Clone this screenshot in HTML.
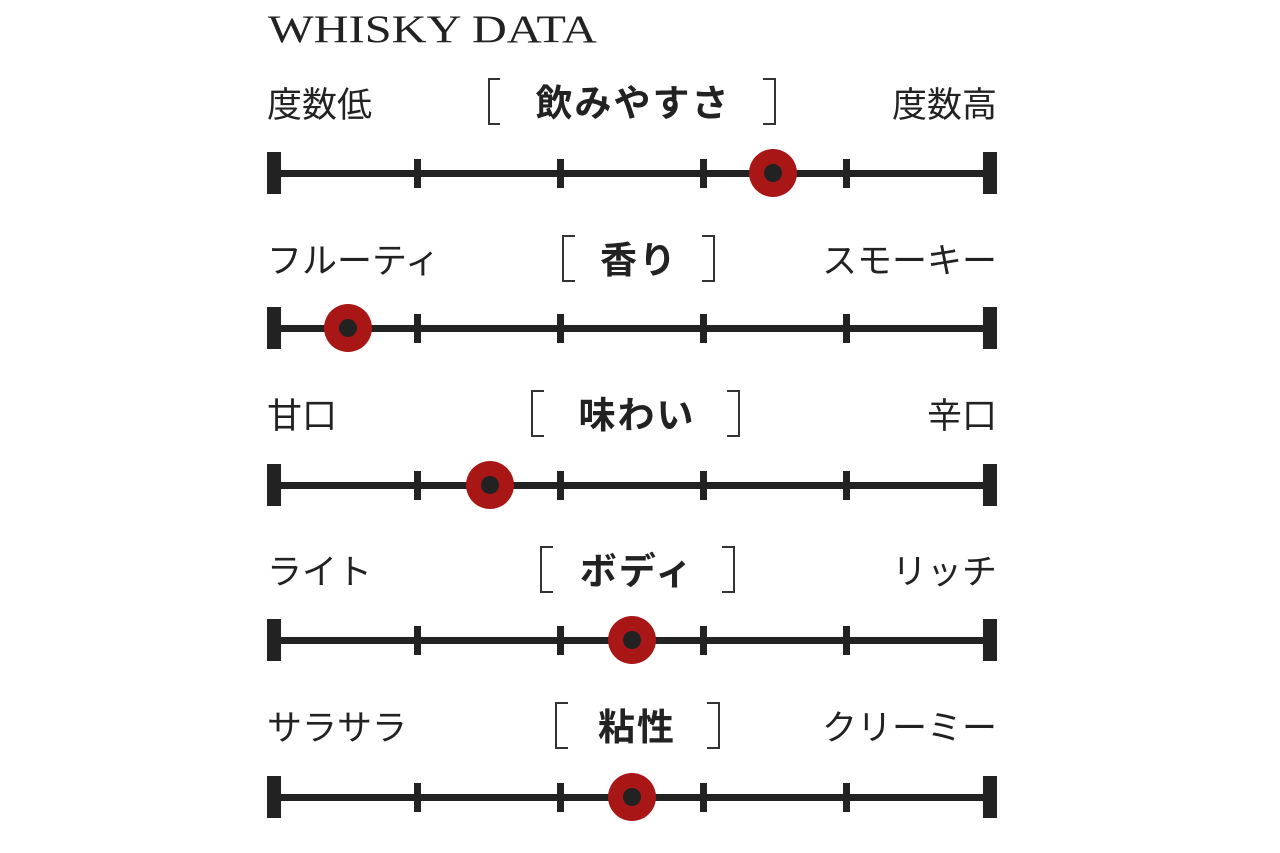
<!DOCTYPE html>
<html><head><meta charset="utf-8"><style>
html,body{margin:0;padding:0;background:#fff;}
svg{display:block;}
.s{font-family:"Liberation Sans","Noto Sans CJK JP",sans-serif;font-size:35px;fill:#222;}
.b{font-family:"Liberation Sans","Noto Sans CJK JP",sans-serif;font-size:37px;font-weight:bold;fill:#222;letter-spacing:2px;}
</style></head><body>
<svg width="1280" height="853" viewBox="0 0 1280 853" xmlns="http://www.w3.org/2000/svg">
<text x="268" y="42" font-family="Liberation Serif,serif" font-size="39" fill="#222" textLength="329" lengthAdjust="spacingAndGlyphs">WHISKY DATA</text>
<g fill="#222">
<text class="s" x="267" y="117">度数低</text>
<text class="s" x="997" y="117" text-anchor="end">度数高</text>
<path d="M500 79 H489 V124 H500 M763 79 H775 V124 H763" stroke="#333" stroke-width="2" fill="none"/>
<text class="b" x="633" y="116" text-anchor="middle">飲みやすさ</text>
<rect x="268" y="170" width="728" height="7"/><rect x="267" y="152" width="14" height="42"/><rect x="983" y="152" width="14" height="42"/>
<rect x="414" y="159" width="7" height="29"/><rect x="557" y="159" width="7" height="29"/><rect x="700" y="159" width="7" height="29"/><rect x="843" y="159" width="7" height="29"/>
<circle cx="773" cy="173" r="24" fill="#a81616"/><circle cx="773" cy="173" r="9" fill="#222"/>
<text class="s" x="267" y="273">フルーティ</text>
<text class="s" x="997" y="273" text-anchor="end">スモーキー</text>
<path d="M575 236 H563 V281 H575 M702 236 H714 V281 H702" stroke="#333" stroke-width="2" fill="none"/>
<text class="b" x="639" y="273" text-anchor="middle">香り</text>
<rect x="268" y="325" width="728" height="7"/><rect x="267" y="307" width="14" height="42"/><rect x="983" y="307" width="14" height="42"/>
<rect x="414" y="314" width="7" height="29"/><rect x="557" y="314" width="7" height="29"/><rect x="700" y="314" width="7" height="29"/><rect x="843" y="314" width="7" height="29"/>
<circle cx="348" cy="328" r="24" fill="#a81616"/><circle cx="348" cy="328" r="9" fill="#222"/>
<text class="s" x="267" y="428">甘口</text>
<text class="s" x="997" y="428" text-anchor="end">辛口</text>
<path d="M544 391 H532 V436 H544 M727 391 H739 V436 H727" stroke="#333" stroke-width="2" fill="none"/>
<text class="b" x="637" y="428" text-anchor="middle">味わい</text>
<rect x="268" y="482" width="728" height="7"/><rect x="267" y="464" width="14" height="42"/><rect x="983" y="464" width="14" height="42"/>
<rect x="414" y="471" width="7" height="29"/><rect x="557" y="471" width="7" height="29"/><rect x="700" y="471" width="7" height="29"/><rect x="843" y="471" width="7" height="29"/>
<circle cx="490" cy="485" r="24" fill="#a81616"/><circle cx="490" cy="485" r="9" fill="#222"/>
<text class="s" x="267" y="584">ライト</text>
<text class="s" x="997" y="584" text-anchor="end">リッチ</text>
<path d="M553 547 H541 V592 H553 M722 547 H734 V592 H722" stroke="#333" stroke-width="2" fill="none"/>
<text class="b" x="637" y="584" text-anchor="middle">ボディ</text>
<rect x="268" y="637" width="728" height="7"/><rect x="267" y="619" width="14" height="42"/><rect x="983" y="619" width="14" height="42"/>
<rect x="414" y="626" width="7" height="29"/><rect x="557" y="626" width="7" height="29"/><rect x="700" y="626" width="7" height="29"/><rect x="843" y="626" width="7" height="29"/>
<circle cx="632" cy="640" r="24" fill="#a81616"/><circle cx="632" cy="640" r="9" fill="#222"/>
<text class="s" x="267" y="740">サラサラ</text>
<text class="s" x="997" y="740" text-anchor="end">クリーミー</text>
<path d="M568 703 H556 V748 H568 M707 703 H719 V748 H707" stroke="#333" stroke-width="2" fill="none"/>
<text class="b" x="637" y="740" text-anchor="middle">粘性</text>
<rect x="268" y="794" width="728" height="7"/><rect x="267" y="776" width="14" height="42"/><rect x="983" y="776" width="14" height="42"/>
<rect x="414" y="783" width="7" height="29"/><rect x="557" y="783" width="7" height="29"/><rect x="700" y="783" width="7" height="29"/><rect x="843" y="783" width="7" height="29"/>
<circle cx="632" cy="797" r="24" fill="#a81616"/><circle cx="632" cy="797" r="9" fill="#222"/>
</g>
</svg>
</body></html>
